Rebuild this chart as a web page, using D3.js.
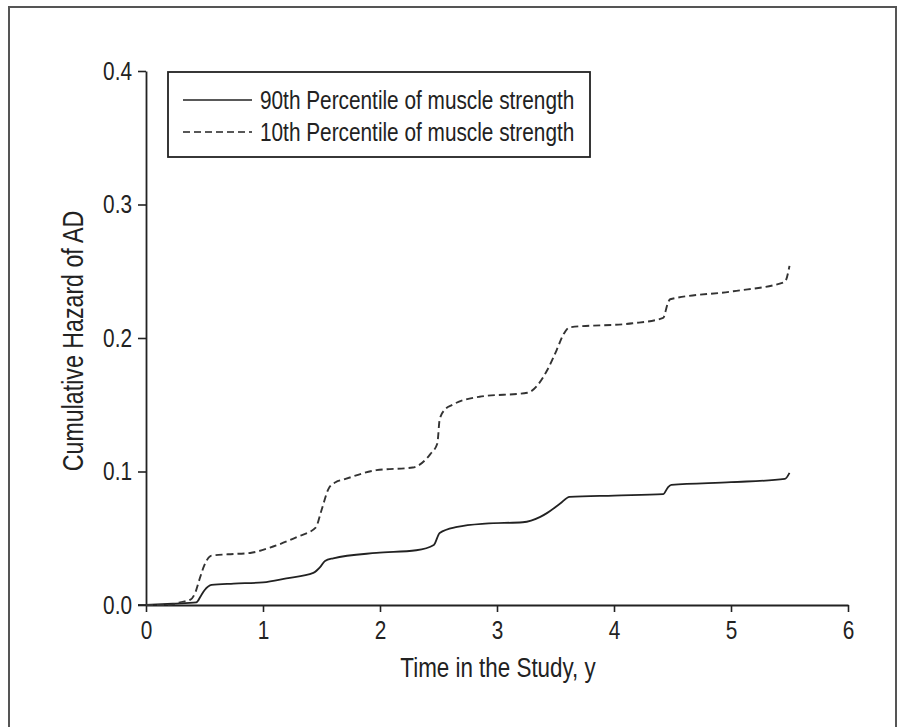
<!DOCTYPE html>
<html>
<head>
<meta charset="utf-8">
<script src="https://cdn.jsdelivr.net/npm/d3@7"></script>
<style>
  html, body { margin: 0; padding: 0; background: #fff; }
  svg text { font-family: "Liberation Sans", Arial, Helvetica, sans-serif; fill: #222; }
</style>
</head>
<body>
<svg id="chart" width="897" height="727"></svg>
<script>
// Cumulative hazard of AD over time, by muscle strength percentile
const strong90Time   = [0, 0.23, 0.43, 0.47, 0.50, 0.56, 0.75, 1.00, 1.20, 1.43, 1.49, 1.53, 1.60, 1.97, 2.31, 2.46, 2.51, 2.66, 2.90, 3.22, 3.37, 3.43, 3.54, 3.62, 4.00, 4.42, 4.46, 4.49, 5.00, 5.46, 5.50];
const strong90Hazard = [0, 0.001, 0.002, 0.007, 0.011, 0.015, 0.016, 0.017, 0.020, 0.024, 0.0285, 0.033, 0.035, 0.039, 0.041, 0.045, 0.054, 0.0585, 0.061, 0.062, 0.066, 0.069, 0.076, 0.081, 0.082, 0.083, 0.088, 0.090, 0.092, 0.0944, 0.099];

const weak10Time   = [0, 0.20, 0.29, 0.38, 0.42, 0.46, 0.50, 0.56, 0.70, 0.89, 1.06, 1.29, 1.45, 1.50, 1.56, 1.62, 1.69, 1.97, 2.28, 2.43, 2.49, 2.51, 2.55, 2.62, 2.85, 3.26, 3.43, 3.51, 3.57, 3.62, 4.16, 4.42, 4.46, 4.48, 5.02, 5.46, 5.50];
const weak10Hazard = [0, 0, 0.002, 0.004, 0.009, 0.020, 0.030, 0.037, 0.038, 0.039, 0.043, 0.051, 0.058, 0.071, 0.087, 0.092, 0.094, 0.101, 0.103, 0.113, 0.121, 0.139, 0.146, 0.150, 0.156, 0.159, 0.176, 0.191, 0.203, 0.208, 0.211, 0.215, 0.226, 0.229, 0.235, 0.242, 0.254];

const xTicks = [0, 1, 2, 3, 4, 5, 6];
const yTicks = [0, 0.1, 0.2, 0.3, 0.4];
const legendLabels = ["90th Percentile of muscle strength", "10th Percentile of muscle strength"];
const xTitle = "Time in the Study, y";
const yTitle = "Cumulative Hazard of AD";

const SQUEEZE = 0.80; // narrow type
const svg = d3.select("#chart");

// outer frame
svg.append("rect")
  .attr("x", 9).attr("y", 7).attr("width", 887).attr("height", 740)
  .attr("fill", "none").attr("stroke", "#555").attr("stroke-width", 2);

const x = d3.scaleLinear().domain([0, 6]).range([146, 848]);
const y = d3.scaleLinear().domain([0, 0.4]).range([605, 71]);

// axes
const gx = svg.append("g").attr("transform", `translate(0,${y(0)})`)
  .call(d3.axisBottom(x).tickValues(xTicks).tickFormat(d3.format("d")).tickSize(7).tickSizeOuter(0).tickPadding(9));
const gy = svg.append("g").attr("transform", `translate(${x(0)},0)`)
  .call(d3.axisLeft(y).tickValues(yTicks).tickFormat(d3.format(".1f")).tickSize(8).tickSizeOuter(0));

[gx, gy].forEach(g => {
  g.select(".domain").attr("stroke", "#222").attr("stroke-width", 1.8);
  g.selectAll(".tick line").attr("stroke", "#222").attr("stroke-width", 1.6);
  g.selectAll(".tick text").attr("font-size", 26).attr("fill", "#222")
    .style("font-family", '"Liberation Sans", Arial, sans-serif');
});
gx.selectAll(".tick text").attr("transform", `scale(${SQUEEZE},1)`);
gy.selectAll(".tick text").attr("x", -14 / SQUEEZE).attr("transform", `scale(${SQUEEZE},1)`);
// extend the x axis baseline to meet the y tick at zero
gx.insert("line", ":first-child").attr("x1", x(0) - 8).attr("x2", x(0)).attr("y1", 0).attr("y2", 0)
  .attr("stroke", "#222").attr("stroke-width", 1.8);

// axis titles
svg.append("text")
  .attr("transform", `translate(498,677) scale(${SQUEEZE},1)`)
  .attr("text-anchor", "middle").attr("font-size", 28).text(xTitle);
svg.append("text")
  .attr("transform", `translate(83,341) rotate(-90) scale(${SQUEEZE},1)`)
  .attr("text-anchor", "middle").attr("font-size", 29).text(yTitle);

// curves
const line = d3.line().x(d => x(d[0])).y(d => y(d[1])).curve(d3.curveMonotoneX);
const strong90 = strong90Time.map((t, i) => [t, strong90Hazard[i]]);
const weak10 = weak10Time.map((t, i) => [t, weak10Hazard[i]]);

svg.append("path").datum(strong90).attr("d", line)
  .attr("fill", "none").attr("stroke", "#222").attr("stroke-width", 1.8);
svg.append("path").datum(weak10).attr("d", line)
  .attr("fill", "none").attr("stroke", "#333").attr("stroke-width", 1.9)
  .attr("stroke-dasharray", "7,4");

// legend
const lg = svg.append("g");
lg.append("rect").attr("x", 168).attr("y", 72).attr("width", 422).attr("height", 85)
  .attr("fill", "#fff").attr("stroke", "#222").attr("stroke-width", 1.8);
const rowsY = [100, 132];
const dashes = [null, "7,4"];
legendLabels.forEach((lab, i) => {
  lg.append("line").attr("x1", 183).attr("x2", 252).attr("y1", rowsY[i]).attr("y2", rowsY[i])
    .attr("stroke", "#222").attr("stroke-width", 1.6).attr("stroke-dasharray", dashes[i]);
  lg.append("text").attr("transform", `translate(260,${rowsY[i] + 9}) scale(${SQUEEZE},1)`)
    .attr("font-size", 26).text(lab);
});
</script>
</body>
</html>
